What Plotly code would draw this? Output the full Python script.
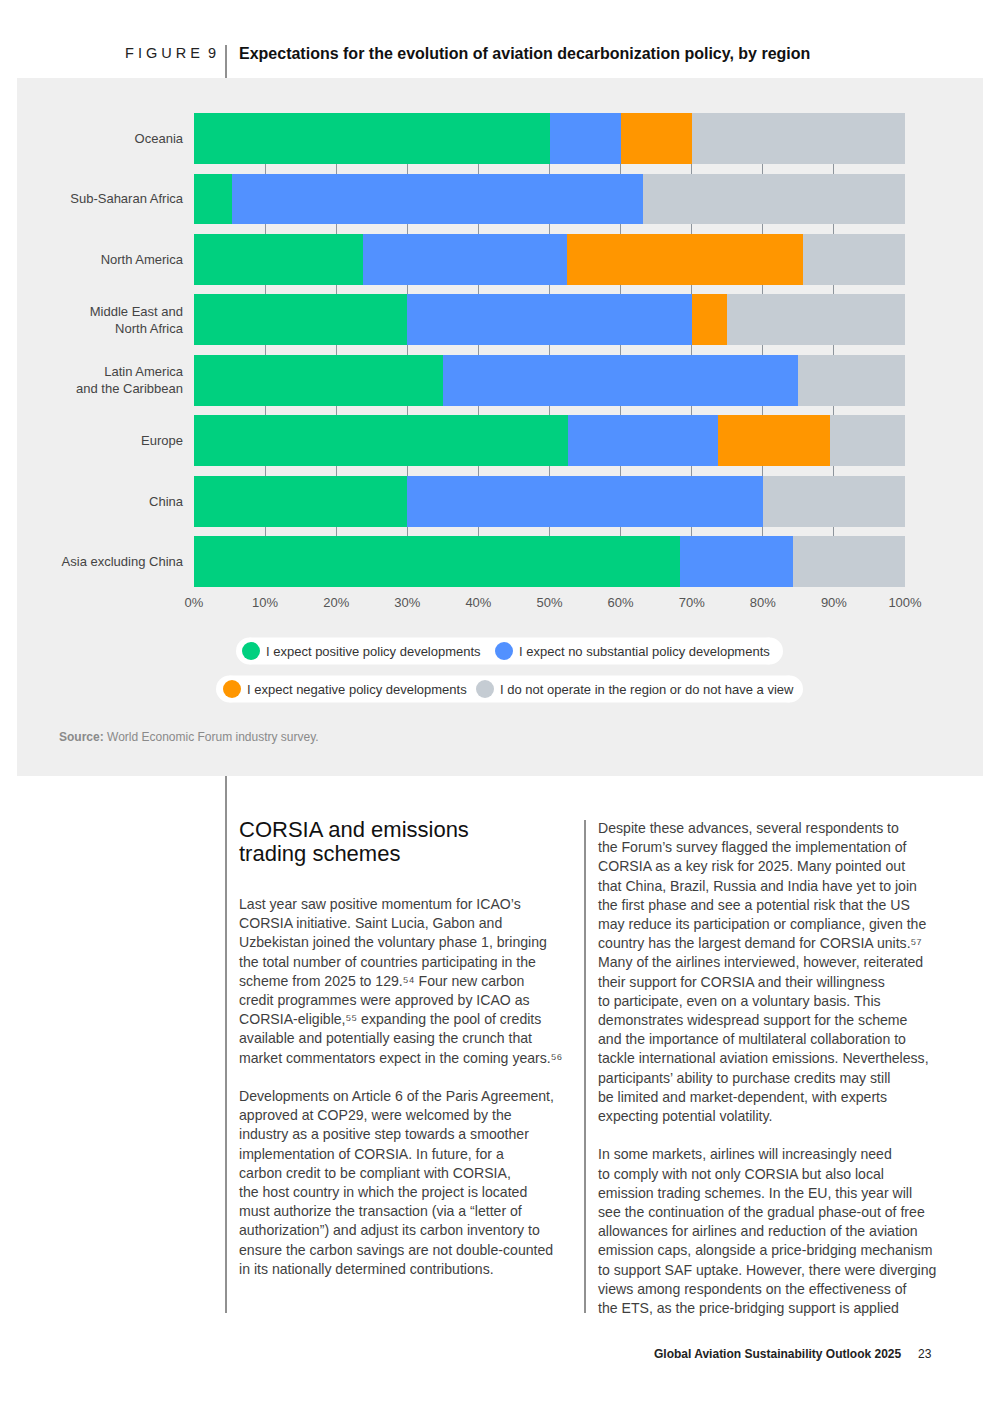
import plotly.graph_objects as go

# survey shares (%) per region, top to bottom as in the figure
regions = ["Oceania", "Sub-Saharan Africa", "North America",
           "Middle East and<br>North Africa", "Latin America<br>and the Caribbean",
           "Europe", "China", "Asia excluding China"]
positive = [50.0, 5.3, 23.8, 30.0, 35.0, 52.6, 30.0, 68.4]
no_change = [10.0, 57.9, 28.6, 40.0, 50.0, 21.1, 50.0, 15.8]
negative = [10.0, 0.0, 33.3, 5.0, 0.0, 15.8, 0.0, 0.0]
no_view = [30.0, 36.8, 14.3, 25.0, 15.0, 10.5, 20.0, 15.8]

series_names = ["I expect positive policy developments",
                "I expect no substantial policy developments",
                "I expect negative policy developments",
                "I do not operate in the region or do not have a view"]
series_colors = ["#00D07F", "#5291FF", "#FF9600", "#C5CCD3"]

x_ticks = [0, 10, 20, 30, 40, 50, 60, 70, 80, 90, 100]
x_tick_labels = [f"{t}%" for t in x_ticks]

heading = ["CORSIA and emissions", "trading schemes"]
col1_lines = [
    "Last year saw positive momentum for ICAO’s",
    "CORSIA initiative. Saint Lucia, Gabon and",
    "Uzbekistan joined the voluntary phase 1, bringing",
    "the total number of countries participating in the",
    "scheme from 2025 to 129.⁵⁴ Four new carbon",
    "credit programmes were approved by ICAO as",
    "CORSIA-eligible,⁵⁵ expanding the pool of credits",
    "available and potentially easing the crunch that",
    "market commentators expect in the coming years.⁵⁶",
    "",
    "Developments on Article 6 of the Paris Agreement,",
    "approved at COP29, were welcomed by the",
    "industry as a positive step towards a smoother",
    "implementation of CORSIA. In future, for a",
    "carbon credit to be compliant with CORSIA,",
    "the host country in which the project is located",
    "must authorize the transaction (via a “letter of",
    "authorization”) and adjust its carbon inventory to",
    "ensure the carbon savings are not double-counted",
    "in its nationally determined contributions.",
]
col2_lines = [
    "Despite these advances, several respondents to",
    "the Forum’s survey flagged the implementation of",
    "CORSIA as a key risk for 2025. Many pointed out",
    "that China, Brazil, Russia and India have yet to join",
    "the first phase and see a potential risk that the US",
    "may reduce its participation or compliance, given the",
    "country has the largest demand for CORSIA units.⁵⁷",
    "Many of the airlines interviewed, however, reiterated",
    "their support for CORSIA and their willingness",
    "to participate, even on a voluntary basis. This",
    "demonstrates widespread support for the scheme",
    "and the importance of multilateral collaboration to",
    "tackle international aviation emissions. Nevertheless,",
    "participants’ ability to purchase credits may still",
    "be limited and market-dependent, with experts",
    "expecting potential volatility.",
    "",
    "In some markets, airlines will increasingly need",
    "to comply with not only CORSIA but also local",
    "emission trading schemes. In the EU, this year will",
    "see the continuation of the gradual phase-out of free",
    "allowances for airlines and reduction of the aviation",
    "emission caps, alongside a price-bridging mechanism",
    "to support SAF uptake. However, there were diverging",
    "views among respondents on the effectiveness of",
    "the ETS, as the price-bridging support is applied",
]

W, H = 992, 1403
FONT = "Liberation Sans, Arial, sans-serif"

# the page puts the figure at x=17..983, y+8, so map page pixels to paper
OX, OY, FW = 17, 8, 966


def px(x):
    return (x - OX) / FW


def py(y):
    return 1 - (y - OY) / H


fig = go.Figure()
for name, vals, col in zip(series_names, [positive, no_change, negative, no_view], series_colors):
    fig.add_trace(go.Bar(y=regions, x=vals, name=name, orientation="h",
                         marker=dict(color=col, line=dict(width=0)),
                         showlegend=False, hoverinfo="x+name"))

gap = 0.165
fig.update_layout(
    width=W, height=H,
    margin=dict(l=0, r=0, t=0, b=0),
    paper_bgcolor="white", plot_bgcolor="rgba(0,0,0,0)",
    barmode="stack", bargap=gap,
    font=dict(family=FONT, color="#444444", size=13),
    xaxis=dict(domain=[px(194), px(905)], range=[0, 100], tickvals=x_ticks,
               ticktext=x_tick_labels, showgrid=True, gridcolor="#8E959C", gridwidth=1,
               zeroline=False, showline=False, ticks="", ticklabelstandoff=6,
               tickfont=dict(size=13, color="#555555")),
    yaxis=dict(domain=[py(587), py(113)],
               range=[len(regions) - 0.5 - gap / 2, -0.5 + gap / 2],
               showgrid=False, zeroline=False, ticks="", ticklabelstandoff=10,
               tickfont=dict(size=13, color="#444444")),
)

shapes = []
# grey panel behind the figure
shapes.append(dict(type="rect", xref="paper", yref="paper", x0=0, x1=1,
                   y0=py(776), y1=py(78), fillcolor="#EFEFEF", line_width=0, layer="below"))
# header divider and column rules
for x, y0, y1 in [(226, 45, 78), (226, 776, 1313), (585, 820, 1313)]:
    shapes.append(dict(type="line", xref="paper", yref="paper", x0=px(x), x1=px(x),
                       y0=py(y0), y1=py(y1), line=dict(color="#222222", width=1)))

annotations = []
annotations.append(dict(x=px(123), y=py(53), xref="paper", yref="paper", xanchor="left",
                        yanchor="middle", showarrow=False,
                        text="F I G U R E  9",
                        font=dict(family=FONT, size=14.5, color="#222222")))
annotations.append(dict(x=px(237), y=py(53), xref="paper", yref="paper", xanchor="left",
                        yanchor="middle", showarrow=False,
                        text="<b>Expectations for the evolution of aviation decarbonization policy, by region</b>",
                        font=dict(family=FONT, size=16, color="#111111")))

# legend pills, drawn by hand (two rows)
legend_rows = [
    dict(y=651, x0=236, x1=783, items=[(0, 251), (1, 504)]),
    dict(y=689, x0=216, x1=803, items=[(2, 232), (3, 485)]),
]
r = 13.5
for row in legend_rows:
    yc = row["y"]
    shapes.append(dict(type="rect", xref="paper", yref="paper",
                       x0=px(row["x0"] + r), x1=px(row["x1"] - r),
                       y0=py(yc + r), y1=py(yc - r), fillcolor="white", line_width=0))
    for xc in (row["x0"] + r, row["x1"] - r):
        shapes.append(dict(type="circle", xref="paper", yref="paper",
                           x0=px(xc - r), x1=px(xc + r), y0=py(yc + r), y1=py(yc - r),
                           fillcolor="white", line_width=0))
    for idx, xc in row["items"]:
        shapes.append(dict(type="circle", xref="paper", yref="paper",
                           x0=px(xc - 9), x1=px(xc + 9), y0=py(yc + 9), y1=py(yc - 9),
                           fillcolor=series_colors[idx], line_width=0))
        annotations.append(dict(x=px(xc + 13), y=py(yc), xref="paper", yref="paper",
                                xanchor="left", yanchor="middle", showarrow=False,
                                text=series_names[idx],
                                font=dict(family=FONT, size=13, color="#333333")))

annotations.append(dict(x=px(57), y=py(737), xref="paper", yref="paper", xanchor="left",
                        yanchor="middle", showarrow=False,
                        text="<b>Source:</b> World Economic Forum industry survey.",
                        font=dict(family=FONT, size=12, color="#8A8A8A")))

# article text
for i, line in enumerate(heading):
    annotations.append(dict(x=px(237), y=py(829 + i * 25), xref="paper", yref="paper",
                            xanchor="left", yanchor="middle", showarrow=False, text=line,
                            font=dict(family=FONT, size=22, color="#111111")))

pitch = 19.2
for lines, x0, y0 in [(col1_lines, 237, 904), (col2_lines, 596, 828)]:
    for i, line in enumerate(lines):
        if not line:
            continue
        annotations.append(dict(x=px(x0), y=py(y0 + i * pitch), xref="paper", yref="paper",
                                xanchor="left", yanchor="middle", showarrow=False, text=line,
                                font=dict(family=FONT, size=14.1, color="#3F3F3F")))

annotations.append(dict(x=px(903), y=py(1354), xref="paper", yref="paper", xanchor="right",
                        yanchor="middle", showarrow=False,
                        text="<b>Global Aviation Sustainability Outlook 2025</b>",
                        font=dict(family=FONT, size=12, color="#222222")))
annotations.append(dict(x=px(934), y=py(1354), xref="paper", yref="paper", xanchor="right",
                        yanchor="middle", showarrow=False, text="23",
                        font=dict(family=FONT, size=12, color="#222222")))

fig.update_layout(shapes=shapes, annotations=annotations)
fig.write_html("out.html")
